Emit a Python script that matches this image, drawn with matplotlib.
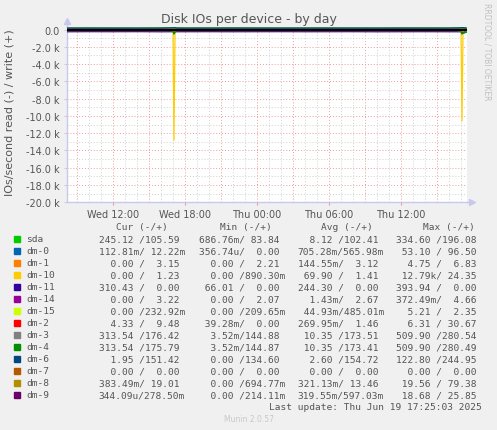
import numpy as np
import matplotlib.pyplot as plt

# Devices and their Munin colours
devices = ["sda", "dm-0", "dm-1", "dm-10", "dm-11", "dm-14", "dm-15",
           "dm-2", "dm-3", "dm-4", "dm-6", "dm-7", "dm-8", "dm-9"]
colors = ["#00CC00", "#0066B3", "#FF8000", "#FFCC00", "#330099", "#990099", "#CCFF00",
          "#FF0000", "#808080", "#008F00", "#00487D", "#B35A00", "#B38F00", "#6B006B"]

# Sample times (hours since Wed 00:00)
hours = [8.17, 10, 12, 14, 16, 17.0, 17.08, 17.17, 17.25, 18, 20, 22, 24, 26, 28,
         30, 32, 34, 36, 38, 40, 41.0, 41.08, 41.17, 41.42]

# Write rates (IOs/s), one list per device
writes = [
    [98, 104, 101, 99, 103, 130, 196, 150, 110, 97, 100, 102, 105, 99, 101, 103, 100, 98, 104, 102, 100, 120, 170, 140, 105.6],
    [0.5, 0.6, 0.4, 0.7, 0.5, 20, 96, 10, 0.6, 0.5, 0.4, 0.6, 0.5, 0.4, 0.6, 0.5, 0.5, 0.6, 0.4, 0.5, 0.6, 5, 40, 3, 0.01],
    [3.1, 3.0, 3.2, 2.9, 3.1, 4.5, 6.8, 4.0, 3.2, 3.1, 3.0, 3.2, 2.9, 3.1, 3.0, 3.2, 3.1, 3.0, 3.2, 3.1, 2.9, 4.0, 5.5, 3.5, 3.15],
    [1.4, 1.3, 1.5, 1.4, 1.2, 8, 24, 6, 1.4, 1.3, 1.4, 1.5, 1.3, 1.4, 1.2, 1.4, 1.5, 1.3, 1.4, 1.3, 1.4, 6, 20, 5, 1.23],
    [0, 0, 0, 0, 0, 0, 0, 0, 0, 0, 0, 0, 0, 0, 0, 0, 0, 0, 0, 0, 0, 0, 0, 0, 0],
    [2.6, 2.7, 2.5, 2.8, 2.6, 3.5, 4.6, 3.0, 2.7, 2.6, 2.5, 2.7, 2.8, 2.6, 2.7, 2.5, 2.6, 2.8, 2.7, 2.6, 2.7, 3.2, 4.2, 3.0, 3.22],
    [0.5, 0.4, 0.5, 0.6, 0.4, 1.2, 2.3, 0.8, 0.5, 0.4, 0.5, 0.5, 0.4, 0.6, 0.5, 0.4, 0.5, 0.5, 0.4, 0.5, 0.6, 1.0, 2.0, 0.7, 0.23],
    [1, 2, 1, 1, 2, 10, 31, 5, 1, 1, 1, 2, 1, 1, 1, 2, 1, 1, 1, 2, 1, 8, 20, 4, 9.5],
    [170, 175, 172, 168, 176, 200, 280, 230, 180, 171, 173, 178, 174, 170, 172, 175, 171, 169, 176, 174, 172, 200, 270, 220, 176.4],
    [170, 175, 172, 168, 176, 200, 280, 230, 180, 171, 173, 178, 174, 170, 172, 175, 171, 169, 176, 174, 172, 200, 270, 220, 175.8],
    [152, 156, 150, 155, 158, 180, 245, 200, 160, 153, 154, 157, 155, 151, 154, 156, 153, 150, 157, 155, 154, 170, 230, 190, 151.4],
    [0, 0, 0, 0, 0, 0, 0, 0, 0, 0, 0, 0, 0, 0, 0, 0, 0, 0, 0, 0, 0, 0, 0, 0, 0],
    [12, 15, 11, 14, 13, 40, 79, 30, 14, 12, 16, 13, 14, 12, 15, 13, 14, 12, 13, 15, 14, 30, 60, 25, 19],
    [0.5, 0.6, 0.4, 0.5, 0.6, 8, 25, 5, 0.5, 0.4, 0.6, 0.5, 0.5, 0.4, 0.6, 0.5, 0.4, 0.5, 0.6, 0.5, 0.4, 4, 15, 2, 0.28],
]

# Read rates (IOs/s), plotted downwards
reads = [
    [2, 3, 2, 1, 4, 60, 330, 120, 10, 3, 2, 1, 2, 1, 3, 2, 2, 1, 2, 3, 4, 80, 320, 200, 245],
    [0.7, 0.6, 0.8, 0.7, 0.5, 10, 53, 8, 0.7, 0.6, 0.7, 0.8, 0.6, 0.7, 0.5, 0.7, 0.6, 0.8, 0.7, 0.6, 0.7, 5, 30, 4, 0.11],
    [0, 0, 0, 0, 0, 1.5, 4.7, 1.0, 0, 0, 0, 0, 0, 0, 0, 0, 0, 0, 0, 0, 0, 1.0, 3.5, 0.5, 0],
    [0, 0, 0, 0, 0, 0, 12790, 0, 0, 0, 0, 0, 0, 0, 0, 0, 0, 0, 0, 0, 0, 0, 10600, 0, 0],
    [250, 240, 245, 238, 252, 246, 300, 260, 248, 246, 241, 248, 243, 239, 247, 244, 240, 251, 245, 242, 248, 250, 394, 330, 310],
    [0, 0, 0, 0, 0, 0, 0.37, 0, 0, 0, 0, 0, 0, 0, 0, 0, 0, 0, 0, 0, 0, 0, 0.2, 0, 0],
    [0, 0, 0, 0, 0, 1.5, 5.2, 1.0, 0, 0, 0, 0, 0, 0, 0, 0, 0, 0, 0, 0, 0, 1.0, 3.8, 0.6, 0],
    [0.2, 0.3, 0.2, 0.3, 0.2, 2, 6.3, 1.5, 0.3, 0.2, 0.3, 0.2, 0.3, 0.2, 0.3, 0.2, 0.3, 0.2, 0.3, 0.2, 0.3, 2, 5, 1, 4.3],
    [1, 2, 1, 1, 3, 120, 510, 300, 20, 2, 1, 1, 1, 1, 2, 1, 1, 1, 2, 2, 3, 150, 500, 420, 313.5],
    [1, 2, 1, 1, 3, 120, 510, 300, 20, 2, 1, 1, 1, 1, 2, 1, 1, 1, 2, 2, 3, 150, 500, 420, 313.5],
    [1, 2, 1, 1, 2, 20, 123, 40, 3, 1, 1, 2, 1, 1, 2, 1, 1, 1, 2, 1, 2, 15, 100, 30, 1.95],
    [0, 0, 0, 0, 0, 0, 0, 0, 0, 0, 0, 0, 0, 0, 0, 0, 0, 0, 0, 0, 0, 0, 0, 0, 0],
    [0.3, 0.2, 0.3, 0.4, 0.3, 5, 19.6, 3, 0.3, 0.2, 0.3, 0.3, 0.2, 0.3, 0.4, 0.3, 0.2, 0.3, 0.3, 0.4, 0.3, 4, 15, 2, 0.38],
    [0.3, 0.2, 0.3, 0.4, 0.3, 5, 18.7, 3, 0.3, 0.2, 0.3, 0.3, 0.2, 0.3, 0.4, 0.3, 0.2, 0.3, 0.3, 0.4, 0.3, 4, 14, 2, 0.0003],
]

# Legend statistics (read / write)
cur_rd = [245.12, 0.11281, 0, 0, 310.43, 0, 0, 4.33, 313.54, 313.54, 1.95, 0, 0.38349, 0.00034409]
cur_wr = [105.59, 0.01222, 3.15, 1.23, 0, 3.22, 0.23292, 9.48, 176.42, 175.79, 151.42, 0, 19.01, 0.2785]
min_rd = [0.68676, 0.00035674, 0, 0, 66.01, 0, 0, 0.03928, 0.00352, 0.00352, 0, 0, 0, 0]
min_wr = [83.84, 0, 2.21, 0.8903, 0, 2.07, 0.20965, 0, 144.88, 144.87, 134.60, 0, 0.69477, 0.21411]
avg_rd = [8.12, 0.70528, 0.14455, 69.90, 244.30, 0.00143, 0.04493, 0.26995, 10.35, 10.35, 2.60, 0, 0.32113, 0.31955]
avg_wr = [102.41, 0.56598, 3.12, 1.41, 0, 2.67, 0.48501, 1.46, 173.51, 173.41, 154.72, 0, 13.46, 0.59703]
max_rd = [334.60, 53.10, 4.75, 12790, 393.94, 0.37249, 5.21, 6.31, 509.90, 509.90, 122.80, 0, 19.56, 18.68]
max_wr = [196.08, 96.50, 6.83, 24.35, 0, 4.66, 2.35, 30.67, 280.54, 280.49, 244.95, 0, 79.38, 25.85]

x_ticks = [12, 18, 24, 30, 36]
x_labels = ["Wed 12:00", "Wed 18:00", "Thu 00:00", "Thu 06:00", "Thu 12:00"]
y_ticks = [0, -2000, -4000, -6000, -8000, -10000, -12000, -14000, -16000, -18000, -20000]


def si(v):
    """Format a value the way rrdtool's %6.2lf%s does."""
    if v == 0:
        return "  0.00 "
    if abs(v) >= 1000:
        return f"{v / 1000:6.2f}k"
    if abs(v) >= 1:
        return f"{v:6.2f} "
    if abs(v) >= 1e-3:
        return f"{v * 1000:6.2f}m"
    return f"{v * 1e6:6.2f}u"


W, H = 497, 431
BG = "#F0F0F0"
TXT = "#555555"
MONO = "DejaVu Sans Mono"
MINOR = "#cfcfcf"
MAJOR = "#f29a9a"

fig = plt.figure(figsize=(W / 100, H / 100), dpi=100, facecolor=BG)
ax = fig.add_axes([67 / W, 1 - 203.3 / H, 400 / W, (203.3 - 28) / H])
ax.set_facecolor("white")

# Grid: minor grey every hour / 1k, major red every 3 hours / 2k
for h in np.arange(9, 42, 1):
    if h % 3 == 0:
        continue
    ax.axvline(h, color=MINOR, lw=0.7, ls=(0, (1, 2)), zorder=1)
for h in np.arange(9, 42, 3):
    ax.axvline(h, color=MAJOR, lw=0.7, ls=(0, (1, 2)), zorder=1)
for y in np.arange(-19000, 0, 2000):
    ax.axhline(y, color=MINOR, lw=0.7, ls=(0, (1, 2)), zorder=1)
for y in y_ticks:
    ax.axhline(y, color=MAJOR, lw=0.7, ls=(0, (1, 2)), zorder=1)

# Data lines: writes up, reads down
for i in range(len(devices)):
    ax.plot(hours, writes[i], color=colors[i], lw=0.9, zorder=3)
    ax.plot(hours, -np.array(reads[i]), color=colors[i], lw=0.9, zorder=3)

# Zero line
ax.axhline(0, color="black", lw=1.4, zorder=4)

ax.set_xlim(8.167, 41.5)
ax.set_ylim(-20000, 300)
ax.set_xticks(x_ticks)
ax.set_xticklabels(x_labels)
ax.set_yticks(y_ticks)
ax.set_yticklabels(["0.0"] + [f"{v / 1000:.1f} k" for v in y_ticks[1:]])
ax.tick_params(axis="both", labelsize=7, colors=TXT, length=2, pad=3.5)
ax.tick_params(axis="x", pad=3, color=MAJOR)
ax.tick_params(axis="y", color=MINOR)

for side in ["top", "right"]:
    ax.spines[side].set_visible(False)
for side in ["left", "bottom"]:
    ax.spines[side].set_color("#c8c8ee")
    ax.spines[side].set_linewidth(1.0)

# Axis arrows
ax.plot([0, 0], [1, 1.035], color="#c8c8ee", lw=1.0, transform=ax.transAxes, clip_on=False)
ax.plot([0], [1.035], marker="^", ms=4, color="#c8c8ee", transform=ax.transAxes, clip_on=False)
ax.plot([1, 1.0125], [0, 0], color="#c8c8ee", lw=1.0, transform=ax.transAxes, clip_on=False)
ax.plot([1.0125], [0], marker=">", ms=4, color="#c8c8ee", transform=ax.transAxes, clip_on=False)

# Titles and side texts
fig.text(0.5, 1 - 19.5 / H, "Disk IOs per device - by day", ha="center", va="center",
         fontsize=9, color=TXT)
fig.text(10 / W, 1 - 113 / H, "IOs/second read (-) / write (+)", rotation=90,
         ha="center", va="center", fontsize=8, color=TXT)
fig.text(487 / W, 1 - 52 / H, "RRDTOOL / TOBI OETIKER", rotation=270,
         ha="center", va="center", fontsize=5.5, color="#c0c0c0")

# Legend table
fs = 6.8
headers = [("Cur (-/+)", 142), ("Min (-/+)", 245.5), ("Avg (-/+)", 347), ("Max (-/+)", 449)]
for label, xc in headers:
    fig.text(xc / W, 1 - 228 / H, label, ha="center", va="center", family=MONO,
             fontsize=fs, color=TXT)

col_right = [185, 285, 384, 482]
stats = [(cur_rd, cur_wr), (min_rd, min_wr), (avg_rd, avg_wr), (max_rd, max_wr)]
for i, name in enumerate(devices):
    y = 1 - (240 + 11.97 * i) / H
    fig.patches.append(plt.Rectangle((13.5 / W, y - 3 / H), 6 / W, 6 / H,
                                     transform=fig.transFigure, color=colors[i]))
    fig.text(26 / W, y, name, ha="left", va="center", family=MONO, fontsize=fs, color=TXT)
    for (rd, wr), xr in zip(stats, col_right):
        fig.text(xr / W, y, si(rd[i]) + "/" + si(wr[i]), ha="right", va="center",
                 family=MONO, fontsize=fs, color=TXT)

fig.text(482 / W, 1 - 408 / H, "Last update: Thu Jun 19 17:25:03 2025", ha="right",
         va="center", family=MONO, fontsize=fs, color=TXT)
fig.text(0.5, 1 - 420 / H, "Munin 2.0.57", ha="center", va="center", fontsize=5.5,
         color="#c8c8c8")

fig.savefig("out.png", dpi=100, facecolor=BG)
